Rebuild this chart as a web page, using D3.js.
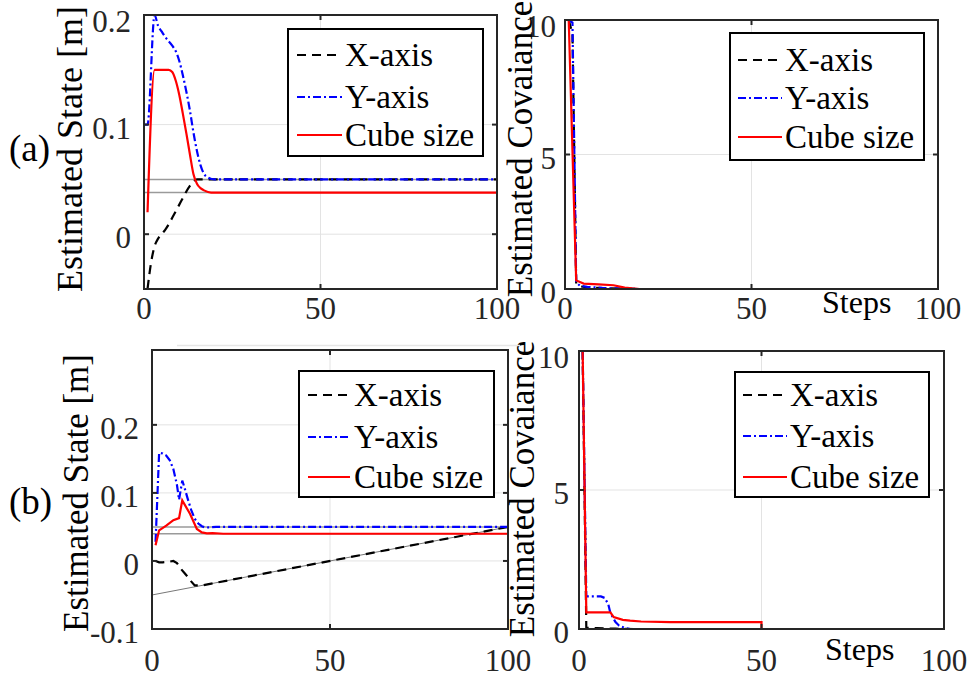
<!DOCTYPE html>
<html>
<head>
<meta charset="utf-8">
<script src="https://cdn.jsdelivr.net/npm/d3@7"></script>
<style>
  html, body { margin: 0; padding: 0; background: #fff; }
  svg text { font-family: 'Liberation Serif', 'Tinos', 'Times New Roman', 'DejaVu Serif', serif; }
  .tick-label { font-size: 31px; fill: #262626; }
  .axis-title { font-size: 36px; fill: #000; }
  .legend-text { font-size: 33px; fill: #000; }
</style>
</head>
<body>
<div id="chart"></div>
<script>
const SERIES = ['X-axis', 'Y-axis', 'Cube size']
const COLORS = ['#000000', '#0000ff', '#ff0000']
const DASHES = ['9,6', '8,3,2,3', null]
const FONT = "'Liberation Serif', 'Times New Roman', serif"

const X_TICKS = [0, 50, 100]
const STATE_A_TICKS = [0, 0.1, 0.2]
const STATE_B_TICKS = [-0.1, 0, 0.1, 0.2]
const COV_TICKS = [0, 5, 10]

// (a) estimated state, [step, value]
const stateAX = [[1, -0.05], [2, -0.026], [3, -0.011], [4, -0.004], [5, 0], [6, 0.004], [7, 0.009], [8, 0.015], [9, 0.021], [10, 0.027], [11, 0.033], [12, 0.039], [13, 0.044], [14, 0.048], [15, 0.05], [100, 0.05]]
const stateAY = [[0, 0.1], [1, 0.1], [3, 0.2], [4, 0.19], [5, 0.185], [6, 0.18], [8, 0.172], [9, 0.167], [10, 0.158], [11, 0.145], [12, 0.13], [13, 0.113], [14, 0.093], [15, 0.076], [16, 0.063], [17, 0.055], [18, 0.052], [20, 0.05], [100, 0.05]]
const stateACube = [[1, 0.02], [3, 0.15], [7, 0.15], [8, 0.148], [9, 0.14], [10, 0.127], [11, 0.11], [12, 0.092], [13, 0.073], [14, 0.055], [15, 0.046], [16, 0.042], [17, 0.04], [19, 0.038], [100, 0.038]]
const stateARefs = [0.05, 0.038]

// (a) estimated covariance
const covAX = [[1, 10], [2, 9.5], [3, 0.2], [4, 0.1], [6, 0.06], [10, 0.03], [15, 0.01], [20, 0], [100, 0]]
const covAY = [[1, 10], [2, 9.9], [3, 0.25], [4, 0.12], [6, 0.08], [10, 0.04], [16, 0.01], [20, 0], [100, 0]]
const covACube = [[1, 10], [3, 0.32], [5, 0.2], [9, 0.17], [13, 0.14], [16, 0.05], [18, 0.02], [20, 0], [100, 0]]

// (b) estimated state
const stateBX = [[1, 0], [2, -0.002], [3, -0.002], [5, -0.001], [6, 0], [7, -0.003], [8, -0.011], [9, -0.017], [10, -0.023], [11, -0.03], [12, -0.036], [14, -0.036], [100, 0.05]]
const stateBY = [[1, 0.028], [2, 0.159], [3, 0.158], [4, 0.155], [5, 0.148], [6, 0.135], [7, 0.112], [7.6, 0.09], [8.5, 0.118], [9, 0.11], [10, 0.092], [11, 0.075], [12, 0.062], [13, 0.055], [14, 0.051], [15, 0.049], [18, 0.05], [100, 0.05]]
const stateBCube = [[1, 0.023], [2, 0.045], [4, 0.052], [6, 0.06], [7.6, 0.063], [8.5, 0.089], [10.7, 0.069], [12.6, 0.047], [14, 0.042], [15.4, 0.0405], [17, 0.041], [20, 0.04], [100, 0.04]]
const stateBRefs = [0.05, 0.04]
const stateBTrue = [[0, -0.05], [100, 0.05]]

// (b) estimated covariance
const covBX = [[1, 10], [2, 0.05], [5, 0.03], [10, 0.01], [15, 0], [100, 0]]
const covBY = [[1, 10], [2, 1.17], [6, 1.17], [7, 1.12], [8, 0.9], [8.6, 0.57], [10, 0.25], [11, 0.12], [12.5, 0.04], [14, 0], [100, 0]]
const covBCube = [[1, 10], [2, 0.6], [8.6, 0.6], [9.5, 0.43], [12, 0.33], [14, 0.3], [17, 0.27], [25, 0.25], [50, 0.25], [50, 0], [100, 0]]

const W = 971, H = 680
const svg = d3.select('#chart').append('svg').attr('width', W).attr('height', H)

const fmt = (d) => (d === 0 ? '0' : String(d))
let clipId = 0

function drawPanel(p) {
  const x = d3.scaleLinear().domain([0, 100]).range([p.l, p.r])
  const y = d3.scaleLinear().domain(p.yDomain).range([p.b, p.t])
  const g = svg.append('g')

  // grid
  g.selectAll('.gx').data(X_TICKS).join('line')
    .attr('x1', (d) => x(d)).attr('x2', (d) => x(d)).attr('y1', p.t).attr('y2', p.b)
    .attr('stroke', '#e3e3e3').attr('stroke-width', 1)
  g.selectAll('.gy').data(p.yTicks).join('line')
    .attr('x1', p.l).attr('x2', p.r).attr('y1', (d) => y(d)).attr('y2', (d) => y(d))
    .attr('stroke', '#e3e3e3').attr('stroke-width', 1)

  const id = `clip${clipId++}`
  svg.append('clipPath').attr('id', id).append('rect')
    .attr('x', p.l).attr('y', p.t).attr('width', p.r - p.l).attr('height', p.b - p.t)
  const plot = g.append('g').attr('clip-path', `url(#${id})`)

  // reference lines
  ;(p.refs || []).forEach((v) => {
    plot.append('line').attr('x1', p.l).attr('x2', p.r).attr('y1', y(v)).attr('y2', y(v))
      .attr('stroke', '#9a9a9a').attr('stroke-width', 1.5)
  })
  const line = d3.line().x((d) => x(d[0])).y((d) => y(d[1])).curve(p.curve)
  if (p.trueLine) {
    plot.append('path').attr('d', d3.line().x((d) => x(d[0])).y((d) => y(d[1]))(p.trueLine))
      .attr('fill', 'none').attr('stroke', '#777').attr('stroke-width', 1)
  }

  p.series.forEach((data, i) => {
    plot.append('path').attr('d', line(data))
      .attr('fill', 'none').attr('stroke', COLORS[i]).attr('stroke-width', 2.2)
      .attr('stroke-dasharray', DASHES[i])
  })

  // box + ticks on all sides
  g.append('rect').attr('x', p.l).attr('y', p.t).attr('width', p.r - p.l).attr('height', p.b - p.t)
    .attr('fill', 'none').attr('stroke', '#262626').attr('stroke-width', 2)
  const tl = 5
  X_TICKS.forEach((d) => {
    g.append('line').attr('x1', x(d)).attr('x2', x(d)).attr('y1', p.b).attr('y2', p.b - tl).attr('stroke', '#262626').attr('stroke-width', 2)
    g.append('line').attr('x1', x(d)).attr('x2', x(d)).attr('y1', p.t).attr('y2', p.t + tl).attr('stroke', '#262626').attr('stroke-width', 2)
  })
  p.yTicks.forEach((d) => {
    g.append('line').attr('x1', p.l).attr('x2', p.l + tl).attr('y1', y(d)).attr('y2', y(d)).attr('stroke', '#262626').attr('stroke-width', 2)
    g.append('line').attr('x1', p.r).attr('x2', p.r - tl).attr('y1', y(d)).attr('y2', y(d)).attr('stroke', '#262626').attr('stroke-width', 2)
  })

  // tick labels
  g.selectAll('.xl').data(X_TICKS).join('text')
    .attr('class', 'tick-label').attr('font-family', FONT).attr('text-anchor', 'middle')
    .attr('x', (d) => x(d)).attr('y', p.b + p.xLabelDy).text(fmt)
  g.selectAll('.yl').data(p.yTicks).join('text')
    .attr('class', 'tick-label').attr('font-family', FONT).attr('text-anchor', 'end')
    .attr('x', p.l - p.yLabelGap).attr('y', (d) => Math.max(y(d) + 14, p.t + 17)).text(fmt)

  // axis title
  g.append('text').attr('class', 'axis-title').attr('font-family', FONT).attr('text-anchor', 'middle')
    .style('font-size', `${p.titleSize}px`)
    .attr('transform', `translate(${p.titleX},${p.titleY}) rotate(-90)`).text(p.title)

  if (p.steps) {
    g.append('text').attr('class', 'axis-title').attr('font-family', FONT).style('font-size', '32px')
      .attr('x', p.steps[0]).attr('y', p.steps[1]).text('Steps')
  }

  // legend
  const L = p.legend
  g.append('rect').attr('x', L.x0).attr('y', L.y0).attr('width', L.x1 - L.x0).attr('height', L.y1 - L.y0)
    .attr('fill', '#fff').attr('stroke', '#000').attr('stroke-width', 2)
  SERIES.forEach((name, i) => {
    const cy = L.rows[i]
    g.append('line').attr('x1', L.s0).attr('x2', L.s1).attr('y1', cy).attr('y2', cy)
      .attr('stroke', COLORS[i]).attr('stroke-width', 2.2).attr('stroke-dasharray', DASHES[i])
    g.append('text').attr('class', 'legend-text').attr('font-family', FONT).attr('x', L.tx).attr('y', cy + 11).text(name)
  })
}

drawPanel({
  l: 144, r: 497, t: 15, b: 289, yDomain: [-0.05, 0.2], yTicks: STATE_A_TICKS,
  series: [stateAX, stateAY, stateACube], refs: stateARefs, curve: d3.curveMonotoneX,
  xLabelDy: 30, yLabelGap: 13, title: 'Estimated State [m]', titleX: 82, titleY: 149, titleSize: 36,
  legend: { x0: 288, y0: 29, x1: 483, y1: 156, s0: 297, s1: 342, tx: 345, rows: [55, 97, 135] },
})

drawPanel({
  l: 565, r: 938, t: 20, b: 289, yDomain: [0, 10], yTicks: COV_TICKS,
  series: [covAX, covAY, covACube], curve: d3.curveLinear,
  xLabelDy: 30, yLabelGap: 9, title: 'Estimated Covaiance', titleX: 532, titleY: 149, titleSize: 35,
  steps: [822, 313],
  legend: { x0: 730, y0: 33, x1: 924, y1: 160, s0: 738, s1: 782, tx: 785, rows: [60, 98, 137] },
})

drawPanel({
  l: 152, r: 508, t: 350, b: 629, yDomain: [-0.1, 0.31], yTicks: STATE_B_TICKS,
  series: [stateBX, stateBY, stateBCube], refs: stateBRefs, trueLine: stateBTrue, curve: d3.curveLinear,
  xLabelDy: 42, yLabelGap: 13, title: 'Estimated State [m]', titleX: 88, titleY: 493, titleSize: 35,
  legend: { x0: 299, y0: 371, x1: 494, y1: 497, s0: 308, s1: 350, tx: 354, rows: [395, 437, 477] },
})

drawPanel({
  l: 579, r: 944, t: 351, b: 629, yDomain: [0, 10], yTicks: COV_TICKS,
  series: [covBX, covBY, covBCube], curve: d3.curveLinear,
  xLabelDy: 42, yLabelGap: 10, title: 'Estimated Covaiance', titleX: 534, titleY: 489, titleSize: 35,
  steps: [825, 660],
  legend: { x0: 735, y0: 372, x1: 929, y1: 497, s0: 743, s1: 787, tx: 790, rows: [395, 436, 477] },
})

// faint separator above panel (b)
svg.append('line').attr('x1', 177).attr('x2', 520).attr('y1', 345.5).attr('y2', 345.5)
  .attr('stroke', '#e6e6e6').attr('stroke-width', 1.5)

// panel tags
svg.append('text').attr('class', 'axis-title').attr('font-family', FONT).style('font-size', '37px').attr('x', 9).attr('y', 161).text('(a)')
svg.append('text').attr('class', 'axis-title').attr('font-family', FONT).style('font-size', '37px').attr('x', 9).attr('y', 514).text('(b)')
</script>
</body>
</html>
